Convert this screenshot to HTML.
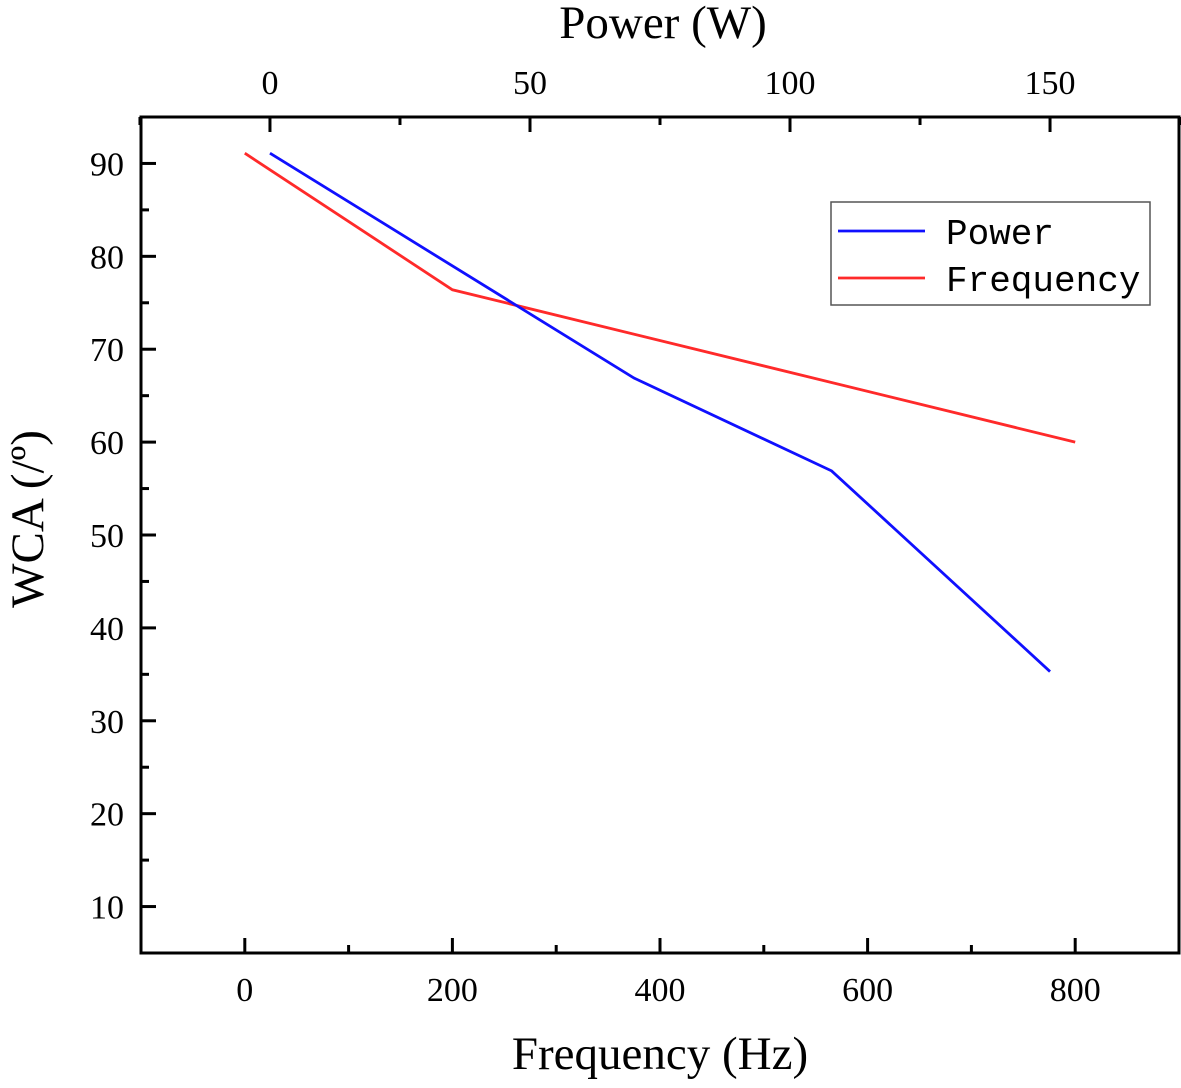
<!DOCTYPE html>
<html><head><meta charset="utf-8"><style>
body{margin:0;background:#fff;}
svg text{font-family:"Liberation Serif",serif;fill:#000;}
svg text.mono{font-family:"Liberation Mono",monospace;}
</style></head><body>
<svg width="1181" height="1083" viewBox="0 0 1181 1083">
<g id="g"></g>
</svg>
<script>
const freqX=[0,200,800];
const freqY=[91.1,76.4,60];
const powerX=[0,70,108,150];
const powerY=[91.1,66.9,56.9,35.3];
const bottomTicks=[0,200,400,600,800];
const topTicks=[0,50,100,150];
const yTicks=[10,20,30,40,50,60,70,80,90];
const L=141,R=1179,T=117,B=953;
const fx=v=>L+(v+100)/1000*(R-L);
const px=v=>L+(v+24.8)/199.6*(R-L);
const sy=v=>B-(v-5)/90*(B-T);
const NS='http://www.w3.org/2000/svg';
const g=document.getElementById('g');
function mk(t,a,txt){const e=document.createElementNS(NS,t);for(const k in a)e.setAttribute(k,a[k]);if(txt!==undefined)e.textContent=txt;g.appendChild(e);return e;}
let fr=mk('rect',{x:L,y:T,width:R-L,height:B-T,fill:'none',stroke:'#000','stroke-width':3});


for(let v=-100;v<=900;v+=100){const x=fx(v);const maj=v%200===0;
 let t=mk('line',{x1:x,x2:x,y1:B,y2:B-(maj?15:8),stroke:'#000','stroke-width':3});
 
 }
bottomTicks.forEach(v=>{let t=mk('text',{x:fx(v),y:1001,'font-size':34,'text-anchor':'middle'},String(v));
 
 });
for(let v=-25;v<=175;v+=25){const x=px(v);const maj=v%50===0;
 let t=mk('line',{x1:x,x2:x,y1:T,y2:T+(maj?15:8),stroke:'#000','stroke-width':3});
 
 }
topTicks.forEach(v=>{let t=mk('text',{x:px(v),y:94,'font-size':34,'text-anchor':'middle'},String(v));
 
 });
for(let v=10;v<=95;v+=5){const y=sy(v);const maj=v%10===0;
 let t=mk('line',{x1:L,x2:L+(maj?15:8),y1:y,y2:y,stroke:'#000','stroke-width':3});
 
 }
yTicks.forEach(v=>{let t=mk('text',{x:124,y:sy(v)+12,'font-size':34,'text-anchor':'end'},String(v));
 
 });
let pf=mk('polyline',{points:freqX.map((v,i)=>fx(v)+','+sy(freqY[i])).join(' '),fill:'none',stroke:'#ff2a2a','stroke-width':2.8});


let pp=mk('polyline',{points:powerX.map((v,i)=>px(v)+','+sy(powerY[i])).join(' '),fill:'none',stroke:'#1010ff','stroke-width':2.8});


let a=mk('text',{x:660,y:1069,'font-size':47,'text-anchor':'middle'},'Frequency (Hz)');


a=mk('text',{x:663,y:38,'font-size':47,'text-anchor':'middle'},'Power (W)');


a=mk('text',{x:0,y:0,'font-size':47,'text-anchor':'middle',transform:'translate(43,519) rotate(-90)'},'WCA (/º)');


a=mk('rect',{x:831,y:202,width:319,height:103,fill:'#fff',stroke:'#555','stroke-width':1.5});


a=mk('line',{x1:838,x2:925,y1:231,y2:231,stroke:'#1010ff','stroke-width':2.8});


a=mk('text',{x:946,y:244,'font-size':36,'class':'mono'},'Power');


a=mk('line',{x1:838,x2:925,y1:278,y2:278,stroke:'#ff2a2a','stroke-width':2.8});


a=mk('text',{x:946,y:291,'font-size':36,'class':'mono'},'Frequency');


</script>
</body></html>
